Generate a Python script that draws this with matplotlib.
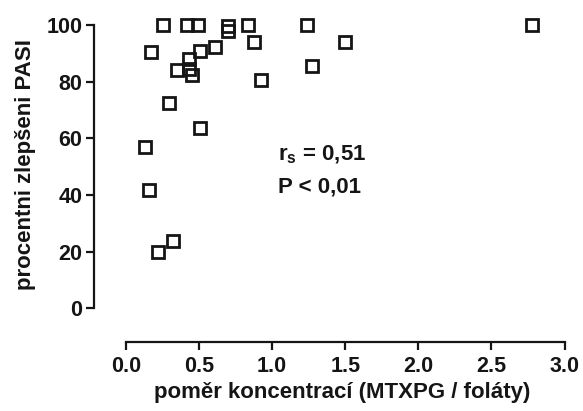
import matplotlib
matplotlib.use("Agg")
import matplotlib.pyplot as plt

plt.rcParams['font.family'] = ['Liberation Sans', 'DejaVu Sans']
plt.rcParams['font.weight'] = 'bold'
plt.rcParams['mathtext.default'] = 'regular'

# data
ratio = [0.255, 0.415, 0.495, 0.70, 0.70, 0.837, 1.236, 2.775,
         0.876, 0.169, 0.609, 0.506, 0.433, 0.347, 0.433, 0.449,
         0.921, 0.296, 0.506, 0.130, 0.159, 0.324, 0.217, 1.498, 1.27]
pasi = [100, 100, 100, 99.5, 98, 100, 100, 100,
        94, 90.6, 92.3, 90.9, 88, 84, 84.5, 82.3,
        80.6, 72.4, 63.5, 57, 41.8, 23.9, 19.8, 94.1, 85.6]
xticks = [0.0, 0.5, 1.0, 1.5, 2.0, 2.5, 3.0]
xticklabels = ["0.0", "0.5", "1.0", "1.5", "2.0", "2.5", "3.0"]
yticks = [0, 20, 40, 60, 80, 100]

W, H = 583, 411
fig = plt.figure(figsize=(W / 100, H / 100), dpi=100)
left, right = 126 / W, 564.5 / W
bottom, top = 1 - 308.3 / H, 1 - 25 / H
ax = fig.add_axes([left, bottom, right - left, top - bottom])

ink = '#151515'
ax.plot(ratio, pasi, linestyle='none', marker='s', markersize=8.4,
        markerfacecolor='none', markeredgecolor=ink,
        markeredgewidth=2.0, clip_on=False)

ax.set_xlim(0, 3)
ax.set_ylim(0, 100)
ax.set_xticks(xticks)
ax.set_xticklabels(xticklabels)
ax.set_yticks(yticks)

for s in ['top', 'right']:
    ax.spines[s].set_visible(False)
ax.spines['left'].set_position(('outward', 23))
ax.spines['bottom'].set_position(('outward', 24))
for s in ['left', 'bottom']:
    ax.spines[s].set_linewidth(1.6)
    ax.spines[s].set_color(ink)
ax.spines['left'].set_bounds(0, 100)
ax.spines['bottom'].set_bounds(0, 3)

ax.tick_params(axis='both', direction='out', length=5.5, width=1.6,
               color=ink, labelsize=15.5, labelcolor=ink)
ax.tick_params(axis='x', pad=5)
ax.tick_params(axis='y', pad=3)

ax.set_xlabel("poměr koncentrací (MTXPG / foláty)", fontsize=16,
              fontweight='bold', color=ink)
ax.set_ylabel("procentni zlepšeni PASI", fontsize=16,
              fontweight='bold', color=ink)
ax.xaxis.set_label_coords(0.494, -0.298)
ax.xaxis.label.set_va('center')
ax.yaxis.set_label_coords(-0.2303, 0.506)
ax.yaxis.label.set_va('center')

ax.text(1.04, 54, r"r$_{\mathregular{s}}$ = 0,51", fontsize=16,
        fontweight='bold', color=ink, va='center', ha='left')
ax.text(1.04, 42.8, "P < 0,01", fontsize=16,
        fontweight='bold', color=ink, va='center', ha='left')

fig.savefig("out.png", dpi=100)
